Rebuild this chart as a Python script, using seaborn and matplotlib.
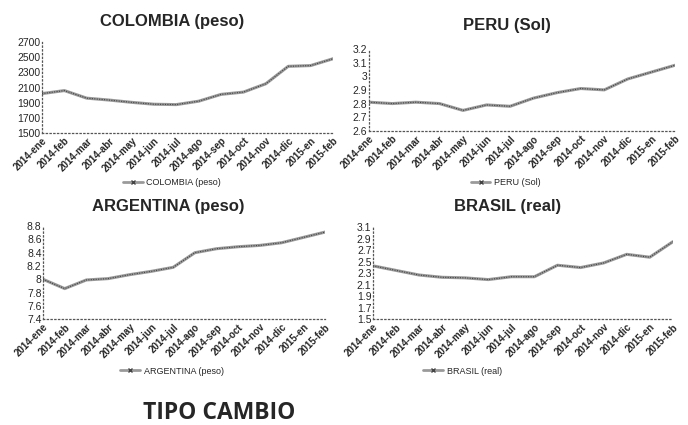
import matplotlib
matplotlib.use('Agg')
import matplotlib.pyplot as plt
import seaborn as sns
import pandas as pd
from matplotlib.ticker import FormatStrFormatter
from matplotlib.lines import Line2D

months = ['2014-ene', '2014-feb', '2014-mar', '2014-abr', '2014-may', '2014-jun', '2014-jul',
          '2014-ago', '2014-sep', '2014-oct', '2014-nov', '2014-dic', '2015-en', '2015-feb']

colombia = [2020, 2060, 1960, 1935, 1905, 1880, 1875, 1920, 2010, 2040, 2150, 2380, 2390, 2480]
peru = [2.81, 2.80, 2.81, 2.80, 2.75, 2.79, 2.78, 2.84, 2.88, 2.91, 2.90, 2.98, 3.03, 3.08]
argentina = [8.00, 7.86, 7.99, 8.01, 8.07, 8.12, 8.18, 8.40, 8.46, 8.49, 8.51, 8.55, 8.63, 8.71]
brasil = [2.43, 2.35, 2.27, 2.23, 2.22, 2.19, 2.24, 2.24, 2.44, 2.40, 2.48, 2.63, 2.58, 2.85]

sns.set_style('white')
plt.rcParams['font.family'] = ['Liberation Sans', 'DejaVu Sans']

fig = plt.figure(figsize=(6.88, 4.25), dpi=100)

panels = [
    # name, values, ticks, axes rect, title pos, legend pos
    ('COLOMBIA (peso)', colombia, [1500 + 200 * i for i in range(7)],
     [0.061, 0.687, 0.423, 0.214], (0.25, 0.95), (0.25, 0.57)),
    ('PERU (Sol)', peru, [2.6, 2.7, 2.8, 2.9, 3.0, 3.1, 3.2],
     [0.536, 0.692, 0.445, 0.193], (0.737, 0.94), (0.735, 0.57)),
    ('ARGENTINA (peso)', argentina, [7.4, 7.6, 7.8, 8.0, 8.2, 8.4, 8.6, 8.8],
     [0.0625, 0.249, 0.41, 0.219], (0.245, 0.513), (0.25, 0.127)),
    ('BRASIL (real)', brasil, [1.5, 1.7, 1.9, 2.1, 2.3, 2.5, 2.7, 2.9, 3.1],
     [0.542, 0.249, 0.436, 0.216], (0.738, 0.513), (0.672, 0.127)),
]

line_color = '#9a9a9a'

for name, vals, ticks, rect, tpos, lpos in panels:
    ax = fig.add_axes(rect)
    df = pd.DataFrame({'mes': range(len(months)), 'valor': vals})
    sns.lineplot(data=df, x='mes', y='valor', ax=ax, color=line_color, lw=2.2)
    sns.lineplot(data=df, x='mes', y='valor', ax=ax, color='#444444', lw=0.8,
                 linestyle=(0, (1, 1.2)))
    ax.set_xlim(0, len(months) - 1)
    ax.set_ylim(ticks[0], ticks[-1])
    ax.set_yticks(ticks)
    ax.yaxis.set_major_formatter(FormatStrFormatter('%g'))
    ax.set_xticks(range(len(months)))
    ax.set_xticklabels(months, rotation=45, ha='right', rotation_mode='anchor',
                       fontsize=7, fontweight='bold')
    ax.tick_params(axis='y', labelsize=7.5, pad=1, length=0)
    ax.tick_params(axis='x', pad=2, length=0)
    ax.set_xlabel('')
    ax.set_ylabel('')
    for s in ['top', 'right']:
        ax.spines[s].set_visible(False)
    for s in ['left', 'bottom']:
        ax.spines[s].set_linestyle((0, (1, 2)))
        ax.spines[s].set_color('#555555')
        ax.spines[s].set_linewidth(0.9)
    fig.text(tpos[0], tpos[1], name, ha='center', va='center',
             fontsize=12, fontweight='bold')
    handle = Line2D([], [], color=line_color, lw=2.0, marker='x', markersize=3,
                    markeredgecolor='#444444')
    fig.legend([handle], [name], loc='center', bbox_to_anchor=lpos, frameon=False,
               fontsize=6.5, handlelength=2.2, handletextpad=0.4)

fig.text(0.318, 0.028, 'TIPO CAMBIO', ha='center', va='center', fontsize=16.5,
         fontweight='bold', family=['Open Sans', 'DejaVu Sans'])

fig.savefig('out.png', dpi=100)
